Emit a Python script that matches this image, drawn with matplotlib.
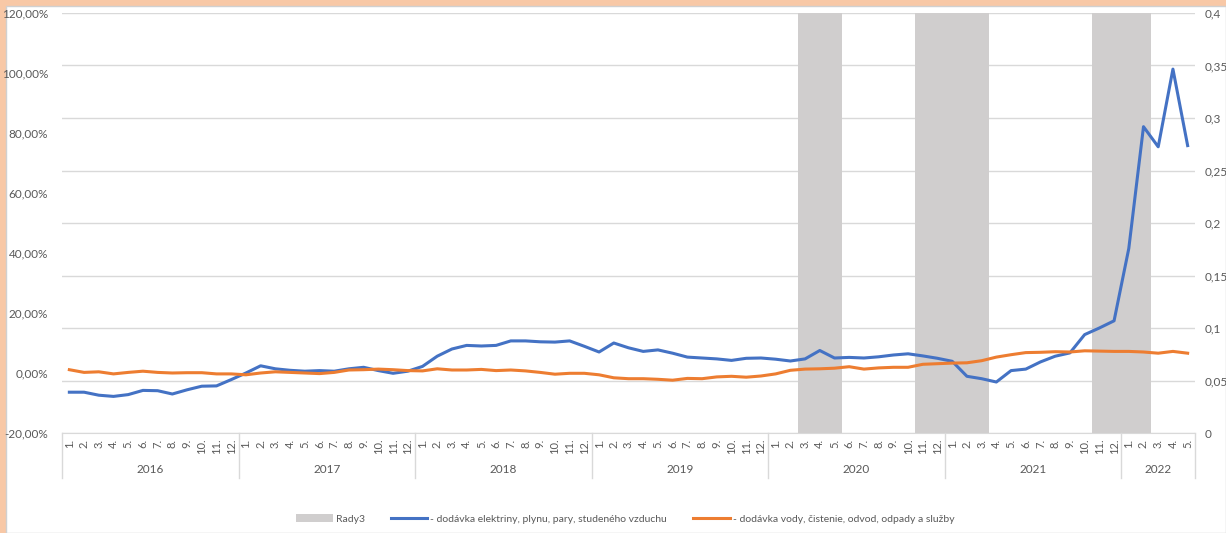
import matplotlib.pyplot as plt
import matplotlib.patches as mpatches
import matplotlib.transforms as mtransforms
from matplotlib.ticker import FuncFormatter
import numpy as np

plt.rcParams['font.family'] = ['Lato', 'DejaVu Sans']

# data
years = ['2016', '2017', '2018', '2019', '2020', '2021', '2022']
months_per_year = [12, 12, 12, 12, 12, 12, 5]
month_labels = [f'{m}.' for n in months_per_year for m in range(1, n + 1)]

energia = [-6.4, -6.4, -7.4, -7.8, -7.2, -5.8, -5.9, -7.0, -5.6, -4.4, -4.3, -2.2,
           0.0, 2.4, 1.4, 0.9, 0.6, 0.8, 0.6, 1.4, 1.9, 0.8, -0.1, 0.6,
           2.2, 5.6, 8.0, 9.2, 9.0, 9.2, 10.7, 10.7, 10.4, 10.3, 10.7, 8.9,
           7.0, 10.0, 8.4, 7.2, 7.7, 6.6, 5.3, 5.0, 4.7, 4.2, 4.9, 5.0,
           4.6, 4.0, 4.7, 7.5, 5.0, 5.2, 5.0, 5.4, 6.0, 6.4, 5.7, 4.9,
           3.9, -1.1, -1.9, -3.0, 0.8, 1.3, 3.7, 5.6, 6.7, 12.8, 15.0, 17.4,
           41.5, 82.1, 75.4, 101.3, 75.8]

voda = [1.1, 0.2, 0.4, -0.3, 0.2, 0.6, 0.2, 0.0, 0.1, 0.1, -0.3, -0.3,
        -0.6, 0.0, 0.4, 0.2, 0.0, -0.2, 0.2, 1.0, 1.1, 1.3, 1.1, 0.8,
        0.7, 1.4, 1.0, 1.0, 1.2, 0.8, 1.0, 0.7, 0.2, -0.4, -0.1, -0.1,
        -0.6, -1.6, -1.9, -1.9, -2.1, -2.4, -1.8, -1.9, -1.3, -1.1, -1.4, -1.0,
        -0.3, 0.9, 1.3, 1.4, 1.6, 2.1, 1.3, 1.7, 1.9, 1.9, 2.9, 3.1,
        3.3, 3.4, 4.1, 5.3, 6.1, 6.8, 6.9, 7.1, 7.0, 7.4, 7.3, 7.2,
        7.2, 7.0, 6.6, 7.2, 6.6]

# Rady3 - shaded periods (secondary axis)
rady3 = [0] * 50 + [0.4] * 3 + [0] * 5 + [0.4] * 5 + [0] * 7 + [0.4] * 4 + [0] * 3

n = len(month_labels)
x = np.arange(n)

blue = '#4472C4'
orange = '#ED7D31'
bar_col = '#D0CECE'
txt = '#595959'
grid_col = '#D9D9D9'

fig = plt.figure(figsize=(12.26, 5.33), dpi=100)
fig.patch.set_facecolor('#F8C8A6')
fig.patches.append(mpatches.Rectangle((6 / 1226, 0), 1 - 6 / 1226, 1 - 6 / 533,
                                      transform=fig.transFigure, facecolor='white',
                                      edgecolor='#D0D0D0', linewidth=1, zorder=-5))

ax = fig.add_axes([62 / 1226, 100 / 533, 1133 / 1226, 420 / 533])
ax2 = ax.twinx()

# bars + grid on secondary axis, lines on primary axis on top
ax2.set_axisbelow(True)
ax2.grid(axis='y', color=grid_col, linewidth=1)
ax2.bar(x, rady3, width=1.0, color=bar_col, label='Rady3', zorder=2)
ax2.set_ylim(0, 0.4)
ax2.set_yticks(np.arange(0, 0.41, 0.05))
ax2.yaxis.set_major_formatter(FuncFormatter(lambda v, p: f'{v:.2f}'.rstrip('0').rstrip('.').replace('.', ',')))

ax.set_zorder(ax2.get_zorder() + 1)
ax.patch.set_visible(False)
ax.plot(x, energia, color=blue, linewidth=2.2,
        label='- dodávka elektriny, plynu, pary, studeného vzduchu')
ax.plot(x, voda, color=orange, linewidth=2.2,
        label='- dodávka vody, čistenie, odvod, odpady a služby')
ax.set_ylim(-20, 120)
ax.set_yticks(np.arange(-20, 121, 20))
ax.yaxis.set_major_formatter(FuncFormatter(lambda v, p: f'{v:.2f}'.replace('.', ',') + '%'))
ax.set_xlim(-0.5, n - 0.5)
ax.set_xticks(x)
ax.set_xticklabels(month_labels, rotation=90, fontsize=8, color=txt)

for a in (ax, ax2):
    for s in a.spines.values():
        s.set_visible(False)
    a.tick_params(axis='y', length=0, labelsize=8.5, labelcolor=txt)
ax.tick_params(axis='x', length=0, pad=4)
ax.tick_params(axis='y', pad=10)
ax2.tick_params(axis='y', pad=7)
ax.spines['bottom'].set_visible(True)
ax.spines['bottom'].set_color(grid_col)

# year labels and separators
trans = mtransforms.blended_transform_factory(ax.transData, ax.transAxes)
bounds = np.concatenate([[0], np.cumsum(months_per_year)]) - 0.5
for b in bounds:
    ax.plot([b, b], [0, -0.107], transform=trans, color=grid_col, linewidth=1, clip_on=False)
for i, y in enumerate(years):
    ax.text((bounds[i] + bounds[i + 1]) / 2, -0.086, y, transform=trans,
            ha='center', va='center', fontsize=8.5, color=txt)

h1, l1 = ax2.get_legend_handles_labels()
h2, l2 = ax.get_legend_handles_labels()
fig.legend(h1 + h2, l1 + l2, loc='center', bbox_to_anchor=(0.51, 0.026), ncol=3,
           frameon=False, fontsize=7.5, labelcolor=txt, handlelength=3.5,
           columnspacing=2.5, handletextpad=0.3)

fig.savefig('out.png', dpi=100, facecolor=fig.get_facecolor())
